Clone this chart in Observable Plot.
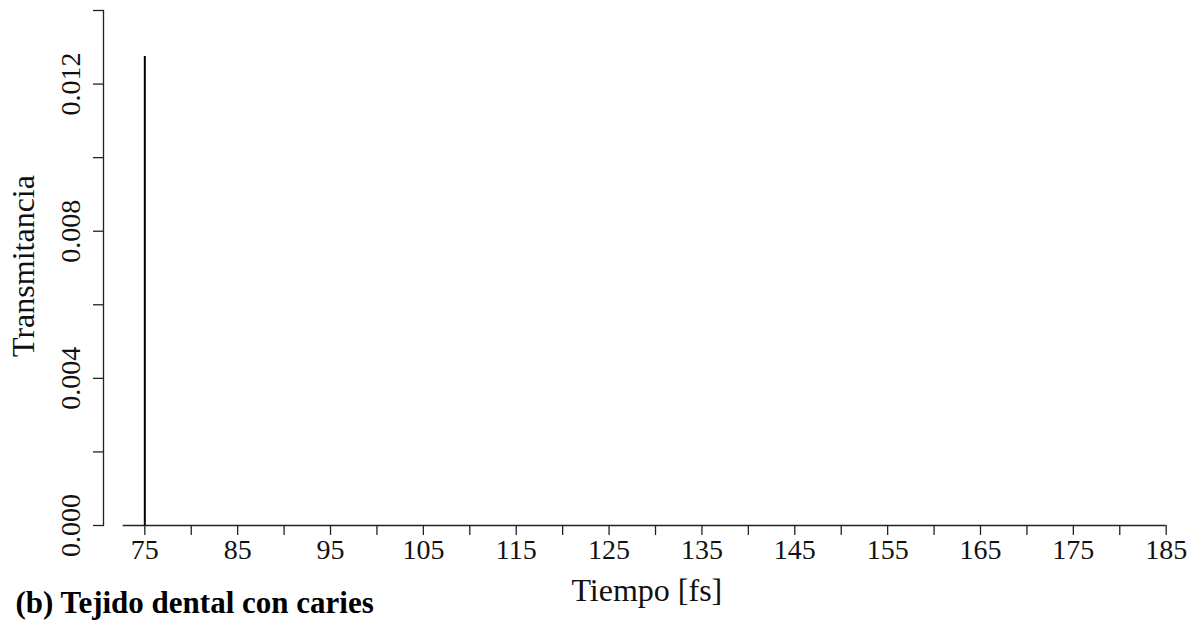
<!DOCTYPE html>
<html>
<head>
<meta charset="utf-8">
<script src="https://cdn.jsdelivr.net/npm/d3@7"></script>
<script src="https://cdn.jsdelivr.net/npm/@observablehq/plot@0.6"></script>
<style>
  html, body { margin: 0; padding: 0; background: #fff; }
  svg { display: block; }
</style>
</head>
<body>
<div id="chart"></div>
<script>
// Data
const time = [75];                 // fs
const transmittance = [0.01275];   // spike height
const xTickValues = [75, 80, 85, 90, 95, 100, 105, 110, 115, 120, 125, 130, 135, 140, 145, 150, 155, 160, 165, 170, 175, 180, 185];
const xTickLabels = [75, 85, 95, 105, 115, 125, 135, 145, 155, 165, 175, 185];
const yTickValues = [0, 0.002, 0.004, 0.006, 0.008, 0.010, 0.012, 0.014];
const yTickLabels = [0, 0.004, 0.008, 0.012];
const xAxisExtent = [72.67, 185];
const xTitle = "Tiempo [fs]";
const yTitle = "Transmitancia";
const caption = "(b) Tejido dental con caries";

const data = time.map((t, i) => ({t, v: transmittance[i]}));
const ink = "#222";

const chart = Plot.plot({
  width: 1199,
  height: 623,
  marginLeft: 103,
  marginRight: 33.3,
  marginTop: 10,
  marginBottom: 98,
  style: {fontFamily: "'Liberation Serif', 'Times New Roman', serif", fontSize: "28px", color: ink, background: "#fff"},
  x: {domain: [70.55, 185], label: null},
  y: {domain: [0, 0.014], label: null},
  marks: [
    // y axis line
    Plot.frame({anchor: "left", stroke: ink, strokeWidth: 1.3}),
    // x axis line
    Plot.ruleY([0], {x1: xAxisExtent[0], x2: xAxisExtent[1], stroke: ink, strokeWidth: 1.3}),
    // ticks
    Plot.axisY({ticks: yTickValues, tickSize: 10, tickFormat: () => "", label: null, stroke: ink, strokeWidth: 1.3}),
    Plot.axisY({ticks: yTickLabels, tickSize: 0, tickPadding: 24, tickRotate: -90, tickFormat: d3.format(".3f"), label: null, fill: "#111", fontSize: 28}),
    Plot.axisX({ticks: xTickValues, tickSize: 10, tickFormat: () => "", label: null, stroke: ink, strokeWidth: 1.3}),
    Plot.axisX({ticks: xTickLabels, tickSize: 0, tickPadding: 14, tickFormat: d3.format("d"), label: null, fill: "#111", fontSize: 28}),
    // data
    Plot.ruleX(data, {x: "t", y1: 0, y2: "v", stroke: "#000", strokeWidth: 2}),
    // titles
    Plot.text([xTitle], {frameAnchor: "bottom", dx: 12, dy: 75, fontSize: 32, fill: "#111"}),
    Plot.text([yTitle], {frameAnchor: "left", textAnchor: "middle", dx: -80, dy: -2, rotate: -90, fontSize: 32, fill: "#111"}),
    Plot.text([caption], {frameAnchor: "bottom-left", textAnchor: "start", dx: -88, dy: 87, fontSize: 31, fontWeight: "bold", fill: "#000"})
  ]
});
document.getElementById("chart").appendChild(chart);
</script>
</body>
</html>
